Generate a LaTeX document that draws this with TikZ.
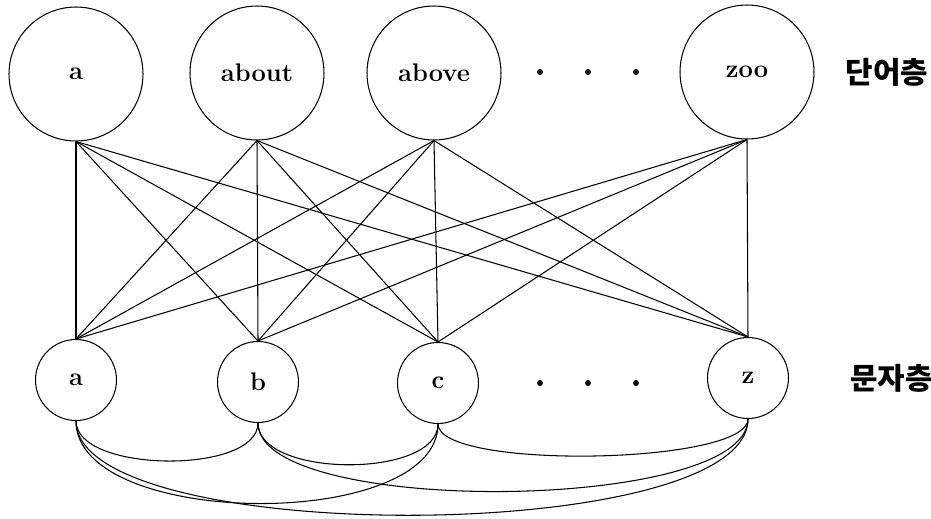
\documentclass[tikz,border=0pt]{standalone}
\usepackage{fontspec}
\newfontfamily\kor{Noto Sans CJK KR}
\usetikzlibrary{positioning}
\tikzstyle{word} = [circle, draw=black, line width=0.6pt, inner sep=0pt,
minimum size=2.68cm, font=\fontsize{14.5}{16}\selectfont\bfseries]
\tikzstyle{letter} = [word, minimum size=1.62cm]
\tikzstyle{dot} = [circle, fill=black, inner sep=0pt, minimum size=0.12cm]
\tikzstyle{layer} = [font=\kor\bfseries\fontsize{17}{17}\selectfont, node distance=0.5cm]
\tikzstyle{wire} = [line width=0.6pt]
\newcommand{\link}[2]{ %
  % every node of #1 to every node of #2
  \foreach \u in {#1} { %
    \foreach \v in {#2} { %
      \draw[wire] (\u.south) -- (\v.north) ;%
    } ;
  } ;
}
\begin{document}
\begin{tikzpicture}[x=0.02cm, y=-0.02cm]

\useasboundingbox (0,0) rectangle (931,518);

        % word layer
        \node[word] (wa) at (76,74) {a};
        \node[word] (wabout) at (257,73) {about};
        \node[word] (wabove) at (434,73) {above};
        \node[word] (wzoo) at (747,72) {zoo};
        \node[layer, right=of wzoo] (nw) {단어층};

        % letter layer
        \node[letter] (la) at (76,380) {a};
        \node[letter] (lb) at (258,382) {b};
        \node[letter] (lc) at (438,383) {c};
        \node[letter] (lz) at (748,378) {z};
        \node[layer, right=1.1cm of lz] (nl) {문자층};

        \foreach \i/\x in {1/540,2/588,3/636} {
          \node[dot] (tdot\i) at (\x,72) {};
          \node[dot] (bdot\i) at (\x,383) {};
        }

        \link{wa,wabout,wabove,wzoo}{la,lb,lc,lz}

        % links inside the letter layer
        \draw[wire] (la.south) .. controls +(0,52) and +(0,52) .. (lb.south);
        \draw[wire] (lb.south) .. controls +(0,55) and +(0,55) .. (lc.south);
        \draw[wire] (lc.south) .. controls +(0,46) and +(0,46) .. (lz.south);
        \draw[wire] (la.south) .. controls +(0,108) and +(0,108) .. (lc.south);
        \draw[wire] (lb.south) .. controls +(0,94) and +(0,94) .. (lz.south);
        \draw[wire] (la.south) .. controls +(0,127) and +(0,127) .. (lz.south);
\end{tikzpicture}
\end{document}
